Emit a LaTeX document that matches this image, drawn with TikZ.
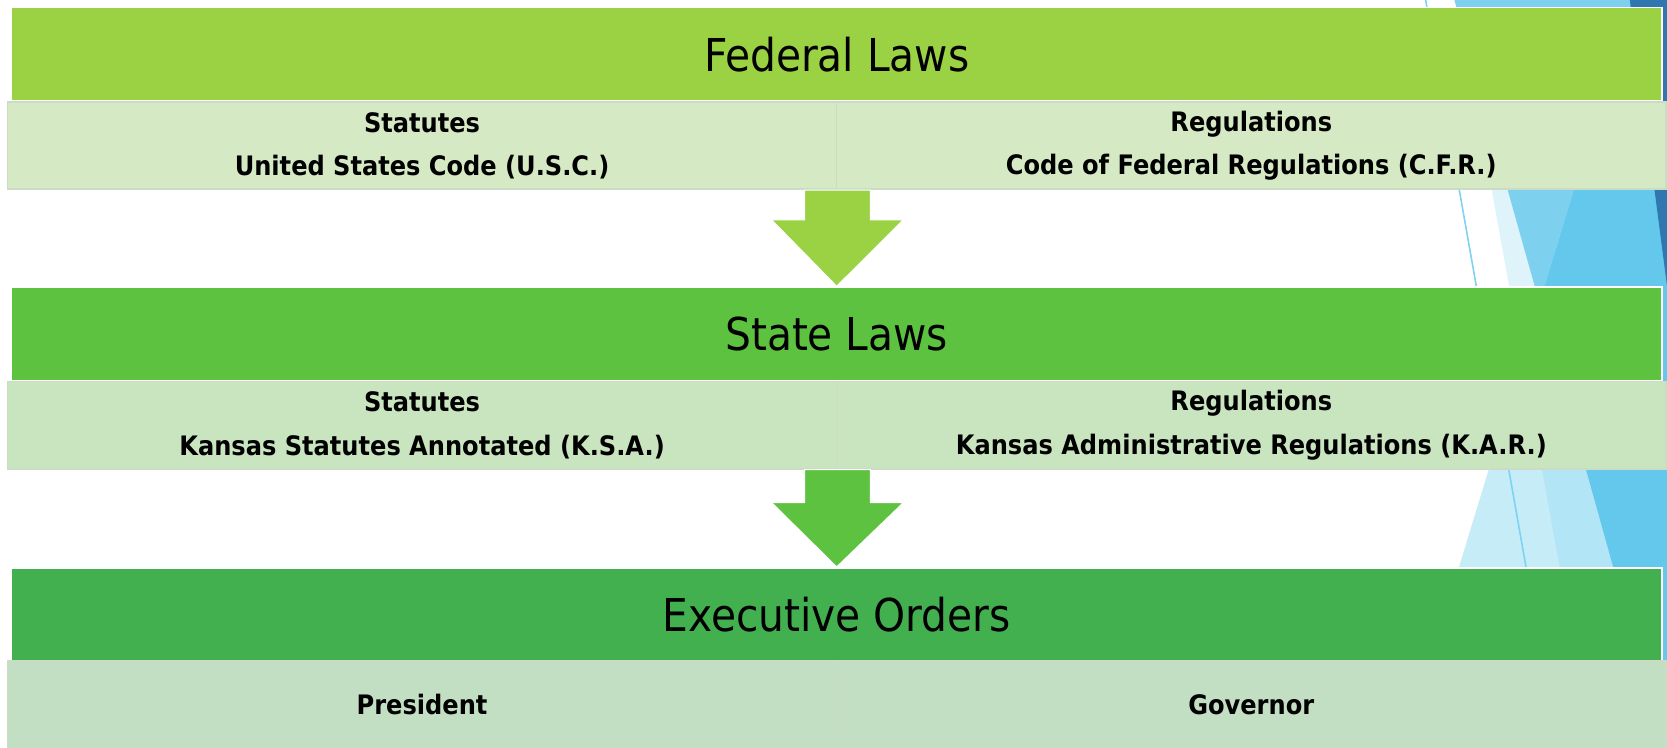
\documentclass[tikz,border=0pt]{standalone}
\usepackage{fontspec}
\setmainfont{DejaVu Sans Condensed}
\usetikzlibrary{calc}
\definecolor{hdrA}{HTML}{9AD243}
\definecolor{subA}{HTML}{D5E9C4}
\definecolor{hdrB}{HTML}{5DC240}
\definecolor{subB}{HTML}{C9E5BF}
\definecolor{hdrC}{HTML}{43B050}
\definecolor{subC}{HTML}{C2DFC3}
\definecolor{cellline}{HTML}{CADCC4}
\definecolor{bgA}{HTML}{DFF3FA}
\definecolor{bgB}{HTML}{C6ECF8}
\definecolor{bgC}{HTML}{B2E5F6}
\definecolor{bgD}{HTML}{7DD0EE}
\definecolor{bgE}{HTML}{63C8EC}
\definecolor{bgN}{HTML}{2F77AE}
\definecolor{bgL}{HTML}{7FD3F0}
\begin{document}
\begin{tikzpicture}[x=0.5pt,y=-0.5pt,
  hdr/.style={fill=#1, draw=white, line width=0.75pt, minimum width=776pt,
    minimum height=44pt, inner sep=0pt, font=\fontsize{21.3}{25}\selectfont},
  cell/.style={fill=#1, draw=cellline, line width=0.75pt, minimum width=390pt,
    minimum height=41pt, inner sep=0pt, align=center,
    font=\bfseries\fontsize{12.6}{20.5}\selectfont},
  blockarrow/.style={fill=#1, draw=white, line width=0.5pt}]
\useasboundingbox (0,0) rectangle (1568,703);
% decorative background facets
\fill[bgA] (1371,0) -- (1568,0) -- (1568,703) -- (1497.5,703) -- cycle;
\fill[bgB] (1535,0) -- (1568,0) -- (1568,703) -- (1320.6,703) -- cycle;
\fill[bgC] (1535,0) -- (1568,0) -- (1568,703) -- (1497.5,703) -- (1431.8,338) -- cycle;
\fill[bgD] (1368,0) -- (1535,0) -- (1448,285) -- cycle;
\fill[bgE] (1535,0) -- (1568,0) -- (1568,703) -- (1564.8,703) -- (1448,285) -- cycle;
\fill[bgN] (1533,0) -- (1568,0) -- (1568,269) -- cycle;
\draw[bgL, line width=0.75pt] (1341,0) -- (1465.4,703);
% level 1
\node[hdr=hdrA] (h1) at (787,51) {Federal Laws};
\node[cell=subA] (l1) at (397,137) {Statutes\\United States Code (U.S.C.)};
\node[cell=subA] (r1) at (1177,137) {Regulations\\Code of Federal Regulations (C.F.R.)};
% level 2
\node[hdr=hdrB] (h2) at (787,314) {State Laws};
\node[cell=subB] (l2) at (397,400) {Statutes\\Kansas Statutes Annotated (K.S.A.)};
\node[cell=subB] (r2) at (1177,400) {Regulations\\Kansas Administrative Regulations (K.A.R.)};
% level 3
\node[hdr=hdrC] (h3) at (787,578) {Executive Orders};
\node[cell=subC] (l3) at (397,663) {President};
\node[cell=subC] (r3) at (1177,663) {Governor};
% block arrows
\path[blockarrow=hdrA] ($(l1.south east)+(-31,0)$) -- ($(l1.south east)+(31,0)$)
  -- ($(l1.south east)+(31,28)$) -- ($(l1.south east)+(62,28)$) -- (h2.north)
  -- ($(l1.south east)+(-62,28)$) -- ($(l1.south east)+(-31,28)$) -- cycle;
\path[blockarrow=hdrB] ($(l2.south east)+(-31,0)$) -- ($(l2.south east)+(31,0)$)
  -- ($(l2.south east)+(31,31)$) -- ($(l2.south east)+(62,31)$) -- (h3.north)
  -- ($(l2.south east)+(-62,31)$) -- ($(l2.south east)+(-31,31)$) -- cycle;
\end{tikzpicture}
\end{document}
